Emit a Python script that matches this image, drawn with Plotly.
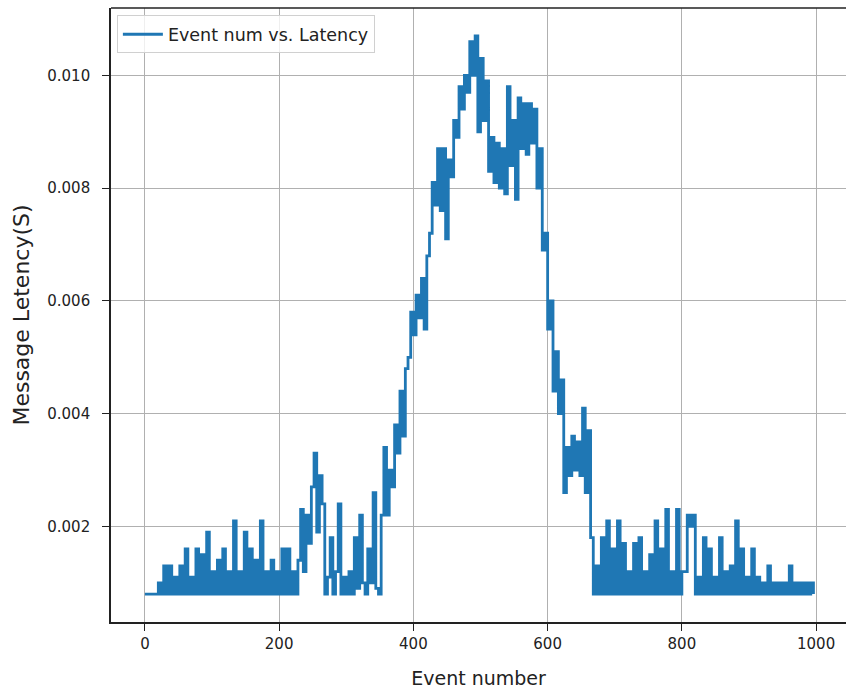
import plotly.graph_objects as go

# Latency samples (seconds), one value every 4 events
lat_start = [0.0008, 0.0008, 0.0008, 0.0008, 0.0008]            # events 0-16
lat_low1 = [                                                      # events 20-228
    0.0010, 0.0008, 0.0013, 0.0008, 0.0013, 0.0008, 0.0011, 0.0008, 0.0013, 0.0008,
    0.0016, 0.0008, 0.0011, 0.0008, 0.0016, 0.0008, 0.0015, 0.0008, 0.0019, 0.0008,
    0.0012, 0.0008, 0.0014, 0.0008, 0.0016, 0.0008, 0.0012, 0.0008, 0.0021, 0.0008,
    0.0012, 0.0008, 0.0019, 0.0008, 0.0016, 0.0008, 0.0014, 0.0008, 0.0021, 0.0008,
    0.0012, 0.0008, 0.0014, 0.0008, 0.0012, 0.0008, 0.0016, 0.0008, 0.0016, 0.0008,
    0.0012, 0.0008, 0.0014,
]
lat_bump = [                                                      # events 232-348
    0.0023, 0.0012, 0.0022, 0.0017, 0.0027, 0.0033, 0.0019, 0.0029, 0.0024, 0.0008,
    0.0011, 0.0018, 0.0008, 0.0012, 0.0024, 0.0008, 0.0011, 0.0008, 0.0012, 0.0008,
    0.0018, 0.0009, 0.0022, 0.0010, 0.0008, 0.0016, 0.0010, 0.0026, 0.0009, 0.0008,
]
lat_peak = [                                                      # events 352-664
    0.0022, 0.0034, 0.0022, 0.0030, 0.0027, 0.0038, 0.0033, 0.0044, 0.0036, 0.0048,
    0.0050, 0.0058, 0.0054, 0.0061, 0.0057, 0.0064, 0.0055, 0.0068, 0.0072, 0.0081,
    0.0077, 0.0087, 0.0076, 0.0087, 0.0071, 0.0085, 0.0082, 0.0092, 0.0089, 0.0098,
    0.0094, 0.0100, 0.0097, 0.0106, 0.0100, 0.0107, 0.0090, 0.0103, 0.0092, 0.0099,
    0.0083, 0.0089, 0.0081, 0.0088, 0.0080, 0.0087, 0.0079, 0.0098, 0.0084, 0.0092,
    0.0078, 0.0096, 0.0087, 0.0095, 0.0086, 0.0095, 0.0088, 0.0094, 0.0080, 0.0087,
    0.0069, 0.0072, 0.0055, 0.0060, 0.0044, 0.0051, 0.0040, 0.0046, 0.0026, 0.0034,
    0.0029, 0.0036, 0.0030, 0.0035, 0.0029, 0.0041, 0.0026, 0.0037, 0.0018,
]
lat_tail = [                                                      # events 668-996
    0.0008, 0.0013, 0.0008, 0.0018, 0.0008, 0.0021, 0.0008, 0.0016, 0.0008, 0.0021,
    0.0008, 0.0017, 0.0008, 0.0012, 0.0008, 0.0017, 0.0008, 0.0018, 0.0008, 0.0012,
    0.0008, 0.0015, 0.0008, 0.0021, 0.0008, 0.0016, 0.0008, 0.0023, 0.0008, 0.0012,
    0.0008, 0.0023, 0.0008, 0.0012, 0.0012, 0.0022, 0.0020, 0.0022, 0.0008, 0.0011,
    0.0008, 0.0018, 0.0008, 0.0016, 0.0008, 0.0011, 0.0008, 0.0018, 0.0008, 0.0012,
    0.0008, 0.0013, 0.0008, 0.0021, 0.0008, 0.0016, 0.0008, 0.0011, 0.0008, 0.0016,
    0.0008, 0.0011, 0.0008, 0.0010, 0.0008, 0.0013, 0.0008, 0.0010, 0.0008, 0.0010,
    0.0008, 0.0010, 0.0008, 0.0013, 0.0008, 0.0010, 0.0008, 0.0010, 0.0008, 0.0010,
    0.0008, 0.0010, 0.0008,
]
latency = lat_start + lat_low1 + lat_bump + lat_peak + lat_tail
events = [4 * i for i in range(len(latency))]

x_ticks = [0, 200, 400, 600, 800, 1000]
y_ticks = [0.002, 0.004, 0.006, 0.008, 0.010]
y_tick_labels = ["0.002", "0.004", "0.006", "0.008", "0.010"]

FONT = "DejaVu Sans"

fig = go.Figure()
fig.add_trace(go.Scatter(
    x=events, y=latency, mode="lines",
    name="Event num vs. Latency",
    line=dict(color="#1f77b4", width=2.8, shape="hv"),
))

fig.update_layout(
    width=846, height=691,
    margin=dict(l=111, r=0, t=8, b=69),
    paper_bgcolor="white", plot_bgcolor="white",
    font=dict(family=FONT, color="#222222", size=15),
    showlegend=True,
    legend=dict(
        x=0.008, y=0.988, xanchor="left", yanchor="top",
        bgcolor="rgba(255,255,255,0.8)", bordercolor="#d0d0d0", borderwidth=1,
        font=dict(family=FONT, size=17.5, color="#222222"),
        itemwidth=40,
    ),
    xaxis=dict(
        range=[-50.5, 1044.5], tickvals=x_ticks,
        showgrid=True, gridcolor="#b0b0b0", gridwidth=1,
        showline=True, linecolor="#222222", linewidth=1.6, mirror=False,
        ticks="outside", ticklen=7, tickwidth=1.2, tickcolor="#222222",
        tickfont=dict(size=15),
        zeroline=False,
        title=dict(text="Event number", font=dict(size=19), standoff=20),
    ),
    yaxis=dict(
        range=[0.000305, 0.011195], tickvals=y_ticks, ticktext=y_tick_labels,
        showgrid=True, gridcolor="#b0b0b0", gridwidth=1,
        showline=True, linecolor="#222222", linewidth=1.6, mirror=False,
        ticks="outside", ticklen=7, tickwidth=1.2, tickcolor="#222222",
        tickfont=dict(size=15), ticklabelstandoff=9,
        zeroline=False,
        title=dict(text="Message Letency(S)", font=dict(size=22), standoff=12),
    ),
    shapes=[dict(type="line", xref="paper", yref="paper", x0=0, x1=1, y0=1, y1=1,
                 line=dict(color="#222222", width=1.6))],
)

fig.write_html(
    "out.html",
    config={"displayModeBar": False},
    post_script="document.body.style.margin='0';document.body.style.overflow='hidden';",
)
